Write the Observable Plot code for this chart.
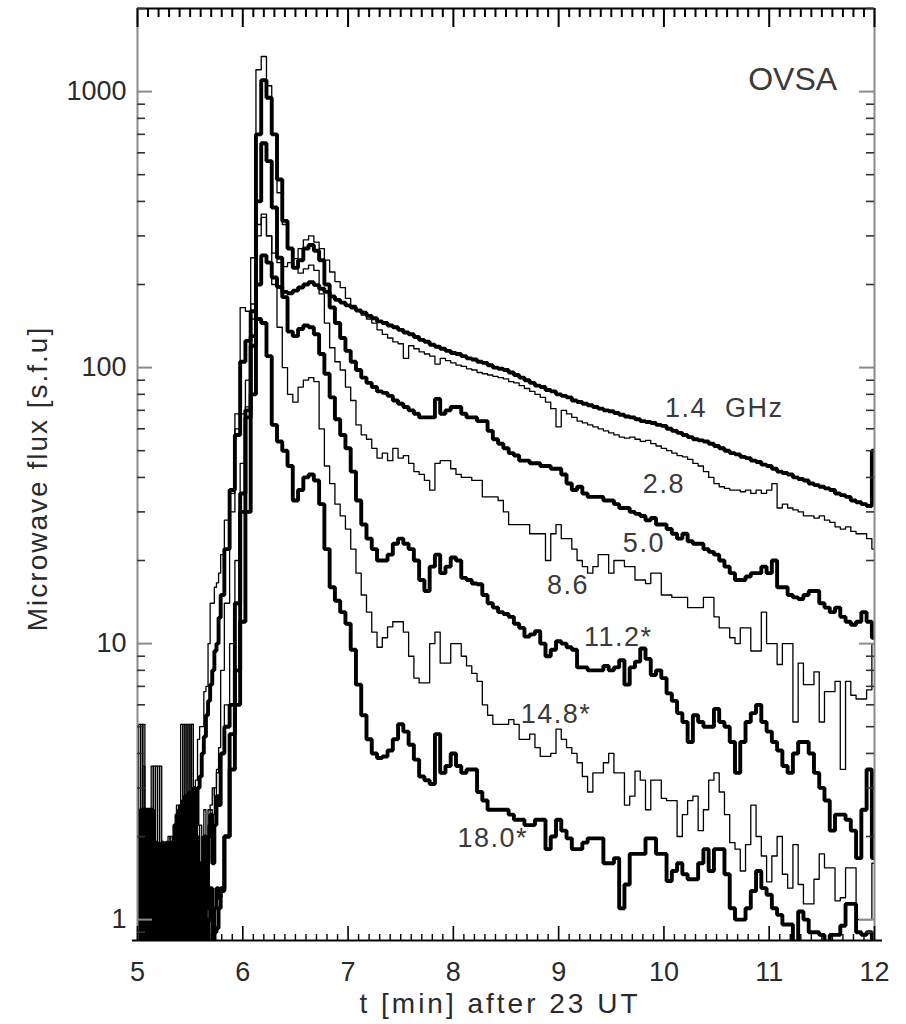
<!DOCTYPE html>
<html>
<head>
<meta charset="utf-8">
<script src="https://cdn.jsdelivr.net/npm/d3@7"></script>
<script src="https://cdn.jsdelivr.net/npm/@observablehq/plot@0.6"></script>
<style>
  body { margin: 0; background: #fff; }
  #chart svg { display: block; }
</style>
</head>
<body>
<div id="chart"></div>
<script>
// Pre-flare record: t = 5.00 ... 5.78 min, one sample every 0.02 min (40 samples)
const preStart = 5.0, preStep = 0.02;
// Main record: t = 5.80 ... 12.00 min, one sample every 0.05 min (125 samples)
const mainStart = 5.8, mainStep = 0.05;

// ---- flux densities [s.f.u.] ----
const pre1_4 = [
  2.5, 0.5, 2.4, 0.5, 2.5, 0.6, 2.3, 0.5, 1.8, 0.5,
  1.5, 0.5, 1.7, 0.5, 1.9, 0.5, 1.6, 0.5, 2.0, 0.5,
  2.4, 0.6, 2.6, 0.5, 2.5, 0.6, 2.2, 0.5, 1.8, 0.6,
  1.4, 0.5, 1.2, 0.6, 1.0, 1.3, 0.8, 1.1, 1.3, 1.2
];
const main1_4 = [
  1.3, 2.0, 3.5, 6,
  12, 30, 80, 200, 255, 240, 212, 196, 188, 186,
  190, 195, 200, 204, 199, 193, 188, 181, 176, 172,
  168, 165, 161, 158, 154, 151, 147, 145, 142, 140,
  137, 134, 132, 129, 126, 124, 121, 119, 117, 115,
  113, 112, 110, 108, 107, 105, 104, 102, 100, 99,
  98, 96, 94, 92, 90, 88, 86, 85, 83, 82,
  80, 79, 78, 76, 75, 74, 73, 72, 71, 70,
  69.5, 68.5, 67.5, 66.5, 66, 65, 64, 63.5, 63, 62,
  61.5, 60, 59, 58, 57, 56, 55, 54.5, 54, 53,
  52, 51, 50, 49, 48.5, 47.5, 47, 46, 45.5, 44.5,
  44, 43, 42, 41.5, 41, 40, 39.5, 39, 38, 37.5,
  37, 36.5, 36, 35, 34.5, 34, 33, 32.5, 32, 31.5,
  50
];
const pre2_8 = [
  5.1, 0.6, 5.1, 2.5, 0.5, 2.5, 0.5, 3.6, 0.5, 3.6,
  1.5, 0.5, 1.9, 0.6, 1.5, 0.5, 2.0, 0.5, 1.7, 0.5,
  2.5, 5.1, 0.6, 5.1, 2.8, 5.1, 3.0, 3.0, 3.2, 4.5,
  5.0, 5.0, 6.7, 7.0, 10, 14, 14, 16, 16.6, 18
];
const main2_8 = [
  21, 28, 35, 68,
  165, 160, 250, 330, 350, 300, 260, 240, 232, 240,
  248, 270, 290, 300, 285, 270, 245, 222, 205, 195,
  178, 168, 160, 155, 150, 145, 137, 132, 128, 124,
  122, 108, 120, 117, 114, 112, 110, 103, 108, 106,
  104, 102, 101, 99, 98, 96, 95, 94, 93, 92,
  91, 89, 88, 86, 84, 82, 80, 78, 75, 71,
  61, 70, 68, 66, 64, 63, 62, 61, 60, 59,
  58, 57, 56, 55.5, 56, 55, 54, 54.5, 53, 52,
  51, 50, 49, 48, 47.5, 46.5, 45, 44, 42, 40,
  38, 37, 36.5, 36, 36, 35.5, 36, 35, 36, 35,
  36, 38, 31, 32, 31, 30.5, 30, 29, 29, 28.5,
  29, 28, 27.5, 26.5, 26, 26.5, 25.5, 25, 25, 24,
  22
];
const pre5_0 = [
  0.5, 2.4, 0.5, 2.5, 0.6, 2.3, 0.5, 2.5, 0.5, 1.9,
  0.5, 1.6, 0.6, 1.5, 0.5, 1.8, 0.5, 1.9, 0.6, 2.4,
  0.5, 2.6, 0.6, 2.8, 0.6, 2.7, 1.5, 3.0, 2.2, 3.0,
  3.3, 4.0, 4.6, 5.5, 6.2, 7.1, 8.0, 9.4, 10, 12.4
];
const main5_0 = [
  15, 22, 36, 57,
  105, 125, 160, 700, 1100, 950, 700, 480, 340, 270,
  230, 245, 270, 278, 265, 245, 200, 165, 145, 128,
  115, 105, 98, 92, 88, 85, 82, 81, 79, 76,
  74, 72, 70, 68, 66, 66, 66, 77, 68, 70,
  72, 72, 68, 66, 66, 64, 64, 59, 55, 53,
  51, 49, 48, 46, 46, 45, 45, 44, 44, 43,
  43, 41, 38, 36, 37, 35, 34, 34, 34, 33,
  33, 32, 31, 31, 30, 29.5, 29, 28, 28.5, 27,
  27, 26, 25, 24, 25, 23.5, 23, 23, 22, 21.5,
  21, 20, 19, 18, 17, 17, 17.5, 18, 18, 19,
  18, 20, 16, 16, 15, 14.7, 14.5, 15, 15.5, 15.5,
  14, 13.5, 13, 13.5, 12.5, 12, 11.7, 12, 13, 12,
  10.5
];
const pre8_6 = [
  1.8, 0.6, 1.5, 3.6, 0.5, 1.3, 2.0, 0.6, 1.4, 0.5,
  3.6, 0.5, 1.2, 1.7, 0.5, 1.4, 0.6, 1.8, 0.5, 2.2,
  1.0, 0.6, 2.4, 0.6, 5.1, 1.5, 5.1, 2.2, 1.8, 2.0,
  0.9, 1.6, 2.0, 1.5, 2.2, 2.5, 2.4, 3.0, 3.5, 4.2
];
const main8_6 = [
  8, 14, 30, 60,
  68, 72, 150, 1200, 1340, 1050, 700, 430, 330, 270,
  230, 220, 228, 235, 225, 185, 145, 118, 105, 98,
  85, 76, 62, 57, 55, 51, 47, 49, 46, 51,
  47, 48, 45, 42, 41, 39, 36, 45, 46, 46,
  43, 41, 40, 40, 39, 39, 34, 34, 34, 33,
  30, 27, 27, 27, 27, 25, 25, 25, 20, 25,
  27, 24, 24, 22, 20, 19, 18, 19, 21, 21,
  18, 20, 20, 19, 19, 17, 17, 16.5, 18, 18,
  15, 15, 14.7, 14.7, 14.7, 13.5, 13.5, 13.5, 14.7, 14.7,
  12.5, 11.4, 11.4, 10.5, 10, 11.4, 11.4, 9.4, 9.4, 13,
  10, 10, 8.4, 10, 10, 5.2, 8.5, 7.1, 7.1, 7.9,
  5.2, 6.7, 6.7, 7.3, 3.5, 7.3, 6.5, 6.3, 6.3, 6.8,
  10
];
const pre11_2 = [
  1.2, 0.5, 2.5, 0.5, 2.2, 0.5, 2.5, 0.6, 1.6, 0.5,
  1.7, 0.5, 1.9, 0.5, 1.4, 0.6, 1.9, 0.5, 2.2, 0.6,
  2.5, 0.5, 2.7, 0.6, 2.4, 0.5, 2.6, 1.0, 2.0, 0.7,
  1.6, 1.2, 2.0, 1.1, 2.0, 2.4, 1.6, 2.2, 2.8, 2.6
];
const main11_2 = [
  4.0, 5, 6, 8,
  30, 66, 130, 400, 650, 560, 380, 250, 180, 135,
  130, 138, 142, 140, 132, 112, 95, 78, 65, 57,
  51, 42, 33, 27, 24, 22, 20, 20, 21, 23,
  24, 23, 22, 20, 17, 15.5, 19, 21, 18, 19,
  20.5, 20, 17.3, 17, 16.5, 16.4, 15, 14, 13.5, 13,
  12.8, 12.5, 11.8, 11.4, 10.6, 10.8, 11.1, 10, 9, 9.5,
  10.2, 10, 9.7, 9.5, 8.2, 8.2, 8, 8, 8, 8.3,
  8.0, 8.2, 8.7, 7.1, 8.2, 8.6, 9.6, 8.8, 7.7, 8.0,
  7.5, 6.6, 6.2, 5.6, 5.2, 4.4, 5.5, 5.2, 5.0, 5.0,
  5.8, 5.2, 5.0, 4.4, 3.4, 4.4, 5.2, 5.6, 6.0, 5.2,
  4.8, 4.4, 4.1, 3.6, 3.4, 4.0, 4.4, 4.4, 4.0, 3.4,
  3.0, 2.7, 2.1, 2.4, 2.4, 2.3, 2.1, 1.67, 2.5, 3.5,
  1.67
];
const pre14_8 = [
  0.5, 5.1, 0.6, 5.1, 1.7, 0.5, 1.9, 0.5, 3.6, 1.0,
  0.5, 3.6, 0.5, 1.2, 0.6, 2.0, 0.5, 1.3, 0.5, 2.6,
  0.6, 2.0, 5.1, 0.5, 2.5, 0.6, 5.1, 1.2, 2.8, 1.4,
  2.2, 1.5, 2.5, 1.8, 2.5, 2.6, 3.0, 2.8, 3.4, 3.6
];
const main14_8 = [
  4.0, 6.0, 10, 20,
  45, 90, 170, 300, 360, 300, 200, 140, 100, 80,
  75, 85, 90, 92, 89, 60, 44, 38, 32, 29,
  26, 22, 18, 15, 13, 11, 9.7, 10.5, 11.5, 12,
  12, 11, 9, 7.5, 7.2, 7.2, 10, 11, 8.5, 8.5,
  10, 10, 9, 8.3, 7.8, 7.3, 6.0, 5.5, 5.1, 5.1,
  5.1, 5.3, 5.1, 4.5, 4.5, 4.7, 4.2, 3.9, 3.9, 4.0,
  4.9, 4.5, 4.2, 4.0, 3.7, 3.3, 2.9, 3.4, 3.4, 3.7,
  4.0, 3.4, 3.4, 2.6, 2.8, 3.45, 3.2, 2.5, 3.2, 3.2,
  2.75, 2.7, 2.7, 2.0, 2.4, 2.7, 2.8, 2.1, 2.5, 3.2,
  3.4, 2.9, 2.4, 1.9, 1.8, 1.5, 1.87, 2.6, 2.0, 1.7,
  1.37, 1.7, 2.0, 1.46, 1.3, 1.87, 1.34, 1.14, 1.14, 1.4,
  1.73, 1.54, 1.54, 1.17, 1.2, 1.54, 1.54, 1.0, 1.0, 1.0,
  1.6
];
const pre18_0 = [
  0.5, 1.6, 0.5, 2.2, 0.5, 2.5, 0.5, 2.0, 0.5, 1.2,
  0.5, 1.8, 0.5, 1.6, 0.5, 1.5, 0.5, 1.7, 0.5, 2.0,
  0.5, 2.2, 0.5, 2.5, 0.5, 2.9, 0.5, 2.2, 0.5, 1.4,
  0.5, 1.0, 0.6, 0.8, 0.5, 0.8, 0.6, 0.9, 0.93, 1.1
];
const main18_0 = [
  1.27, 2.0, 4.7, 14,
  35, 70, 120, 150, 145, 110, 62, 54, 50, 44,
  33, 36, 40, 41, 39, 32, 22, 16, 14.3, 13,
  11.8, 9.5, 7.1, 5.5, 4.5, 4.0, 3.85, 3.9, 4.1, 4.5,
  5.1, 4.8, 4.3, 3.8, 3.3, 3.2, 3.1, 4.7, 3.4, 3.6,
  4.0, 3.6, 3.4, 3.5, 3.5, 2.9, 2.7, 2.5, 2.5, 2.5,
  2.5, 2.4, 2.3, 2.3, 2.2, 2.2, 2.3, 2.3, 1.8, 2.0,
  2.3, 2.1, 1.97, 1.8, 1.8, 1.9, 1.97, 1.97, 1.97, 1.6,
  1.6, 1.67, 1.1, 1.34, 1.73, 1.73, 1.73, 1.97, 1.97, 1.73,
  1.73, 1.38, 1.5, 1.6, 1.46, 1.4, 1.4, 1.6, 1.8, 1.5,
  1.8, 1.8, 1.46, 1.1, 1.0, 1.0, 1.1, 1.27, 1.5, 1.3,
  1.23, 1.1, 1.04, 0.96, 0.96, 0.8, 1.07, 1.0, 0.9, 0.9,
  0.88, 0.8, 0.88, 0.88, 0.95, 1.14, 1.14, 0.9, 0.88, 0.9,
  0.85
];

const bandNames = ["1.4", "2.8", "5.0", "8.6", "11.2", "14.8", "18.0"];
const bandPre = [pre1_4, pre2_8, pre5_0, pre8_6, pre11_2, pre14_8, pre18_0];
const bandMain = [main1_4, main2_8, main5_0, main8_6, main11_2, main14_8, main18_0];
const bandThick = [true, false, true, false, true, false, true];

// Curve labels: text, anchor time [min], anchor flux [s.f.u.]
const labelTexts = ["1.4  GHz", "2.8", "5.0", "8.6", "11.2*", "14.8*", "18.0*"];
const labelT = [10.01, 9.80, 9.61, 8.89, 9.24, 8.64, 8.04];
const labelFlux = [70.9, 37.9, 23.0, 16.3, 10.5, 5.56, 1.97];
const instrumentLabel = {text: "OVSA", t: 10.80, flux: 1107};

// Axes
const xDomain = [5, 12];
const yDomain = [0.84, 2000];
const xTickValues = [5, 6, 7, 8, 9, 10, 11, 12];
const yTickValues = [1, 10, 100, 1000];
const yTickLabels = ["1", "10", "100", "1000"];
const xTitle = "t [min] after 23 UT";
const yTitle = "Microwave flux [s.f.u]";

// ---- build table ----
const rows = [];
bandNames.forEach((name, b) => {
  bandPre[b].forEach((v, i) => rows.push({band: name, thick: bandThick[b], t: +(preStart + i * preStep).toFixed(3), flux: v}));
  bandMain[b].forEach((v, i) => rows.push({band: name, thick: bandThick[b], t: +(mainStart + i * mainStep).toFixed(3), flux: v}));
});
const labels = labelTexts.map((text, i) => ({text, t: labelT[i], flux: labelFlux[i]}));

const xMinor = d3.range(50, 121).map(d => d / 10).filter(d => !Number.isInteger(d));
const yMinor = [];
[0.1, 1, 10, 100, 1000].forEach(dec => { for (let k = 2; k <= 9; k++) yMinor.push(dec * k); });
const yMinorIn = yMinor.filter(v => v >= yDomain[0] && v <= yDomain[1]);

const W = 906, H = 1024, mL = 137, mR = 32, mT = 8, mB = 84;
const innerW = W - mL - mR, innerH = H - mT - mB;
const font = "Liberation Sans, Arial, Helvetica, sans-serif";
const ink = "#2a2a2a";

const chart = Plot.plot({
  width: W, height: H,
  marginLeft: mL, marginRight: mR, marginTop: mT, marginBottom: mB,
  style: {fontFamily: font, background: "#fff"},
  x: {type: "linear", domain: xDomain, axis: null},
  y: {type: "log", domain: yDomain, axis: null},
  marks: [
    Plot.line(rows.filter(d => d.thick), {x: "t", y: "flux", z: "band", curve: "step", stroke: "black", strokeWidth: 3.9, strokeLinejoin: "miter", clip: true}),
    Plot.line(rows.filter(d => !d.thick), {x: "t", y: "flux", z: "band", curve: "step", stroke: "black", strokeWidth: 1.3, clip: true}),
    // frame
    Plot.ruleX([xDomain[0]], {stroke: "#8a8a8a", strokeWidth: 2}),
    Plot.ruleX([xDomain[1]], {stroke: "#8a8a8a", strokeWidth: 2}),
    Plot.ruleY([yDomain[0]], {stroke: "black", strokeWidth: 2, insetLeft: -5, insetRight: -8}),
    Plot.ruleY([yDomain[1]], {stroke: "black", strokeWidth: 2}),
    // bottom ticks (inward)
    Plot.ruleX(xTickValues, {stroke: "black", strokeWidth: 1.6, insetTop: innerH - 14}),
    Plot.ruleX(xMinor, {stroke: "black", strokeWidth: 1.4, insetTop: innerH - 6}),
    // top ticks (inward)
    Plot.ruleX(xTickValues, {stroke: "black", strokeWidth: 2, insetBottom: innerH - 19}),
    Plot.ruleX(xMinor, {stroke: "black", strokeWidth: 2, insetBottom: innerH - 9}),
    // left ticks
    Plot.ruleY(yTickValues, {stroke: "#8a8a8a", strokeWidth: 2, insetRight: innerW - 15}),
    Plot.ruleY(yMinorIn, {stroke: "#333", strokeWidth: 1.6, insetRight: innerW - 8}),
    // right ticks
    Plot.ruleY(yTickValues, {stroke: "#8a8a8a", strokeWidth: 2, insetLeft: innerW - 15}),
    Plot.ruleY(yMinorIn, {stroke: "#333", strokeWidth: 1.6, insetLeft: innerW - 8}),
    // tick labels
    Plot.text(xTickValues, {x: d => d, frameAnchor: "bottom", dy: 32, lineAnchor: "middle", text: d => String(d), fontSize: 27, fill: ink}),
    Plot.text(yTickValues, {y: d => d, frameAnchor: "left", dx: -11, textAnchor: "end", lineAnchor: "middle", text: (d, i) => yTickLabels[i], fontSize: 27, fill: ink}),
    // axis titles
    Plot.text([xTitle], {frameAnchor: "bottom", dx: -6, dy: 64, textAnchor: "middle", lineAnchor: "middle", fontSize: 28, fill: ink}),
    Plot.text([yTitle], {frameAnchor: "left", dx: -99, dy: 4, textAnchor: "middle", rotate: -90, lineAnchor: "middle", fontSize: 28, fill: ink}),
    // curve labels
    Plot.text(labels, {x: "t", y: "flux", text: "text", textAnchor: "start", lineAnchor: "middle", fontSize: 27, fill: "#3a3a3a"}),
    Plot.text([instrumentLabel], {x: "t", y: "flux", text: "text", textAnchor: "start", lineAnchor: "middle", fontSize: 32, fill: "#3a3a3a"})
  ]
});

// wider letter spacing, as in the original figure's font
chart.querySelectorAll("text").forEach(el => {
  const s = el.textContent;
  if (s === xTitle) el.style.letterSpacing = "3px";
  else if (s === yTitle) el.style.letterSpacing = "2px";
  else if (labelTexts.includes(s)) el.style.letterSpacing = "1.5px";
});
document.getElementById("chart").appendChild(chart);
</script>
</body>
</html>
